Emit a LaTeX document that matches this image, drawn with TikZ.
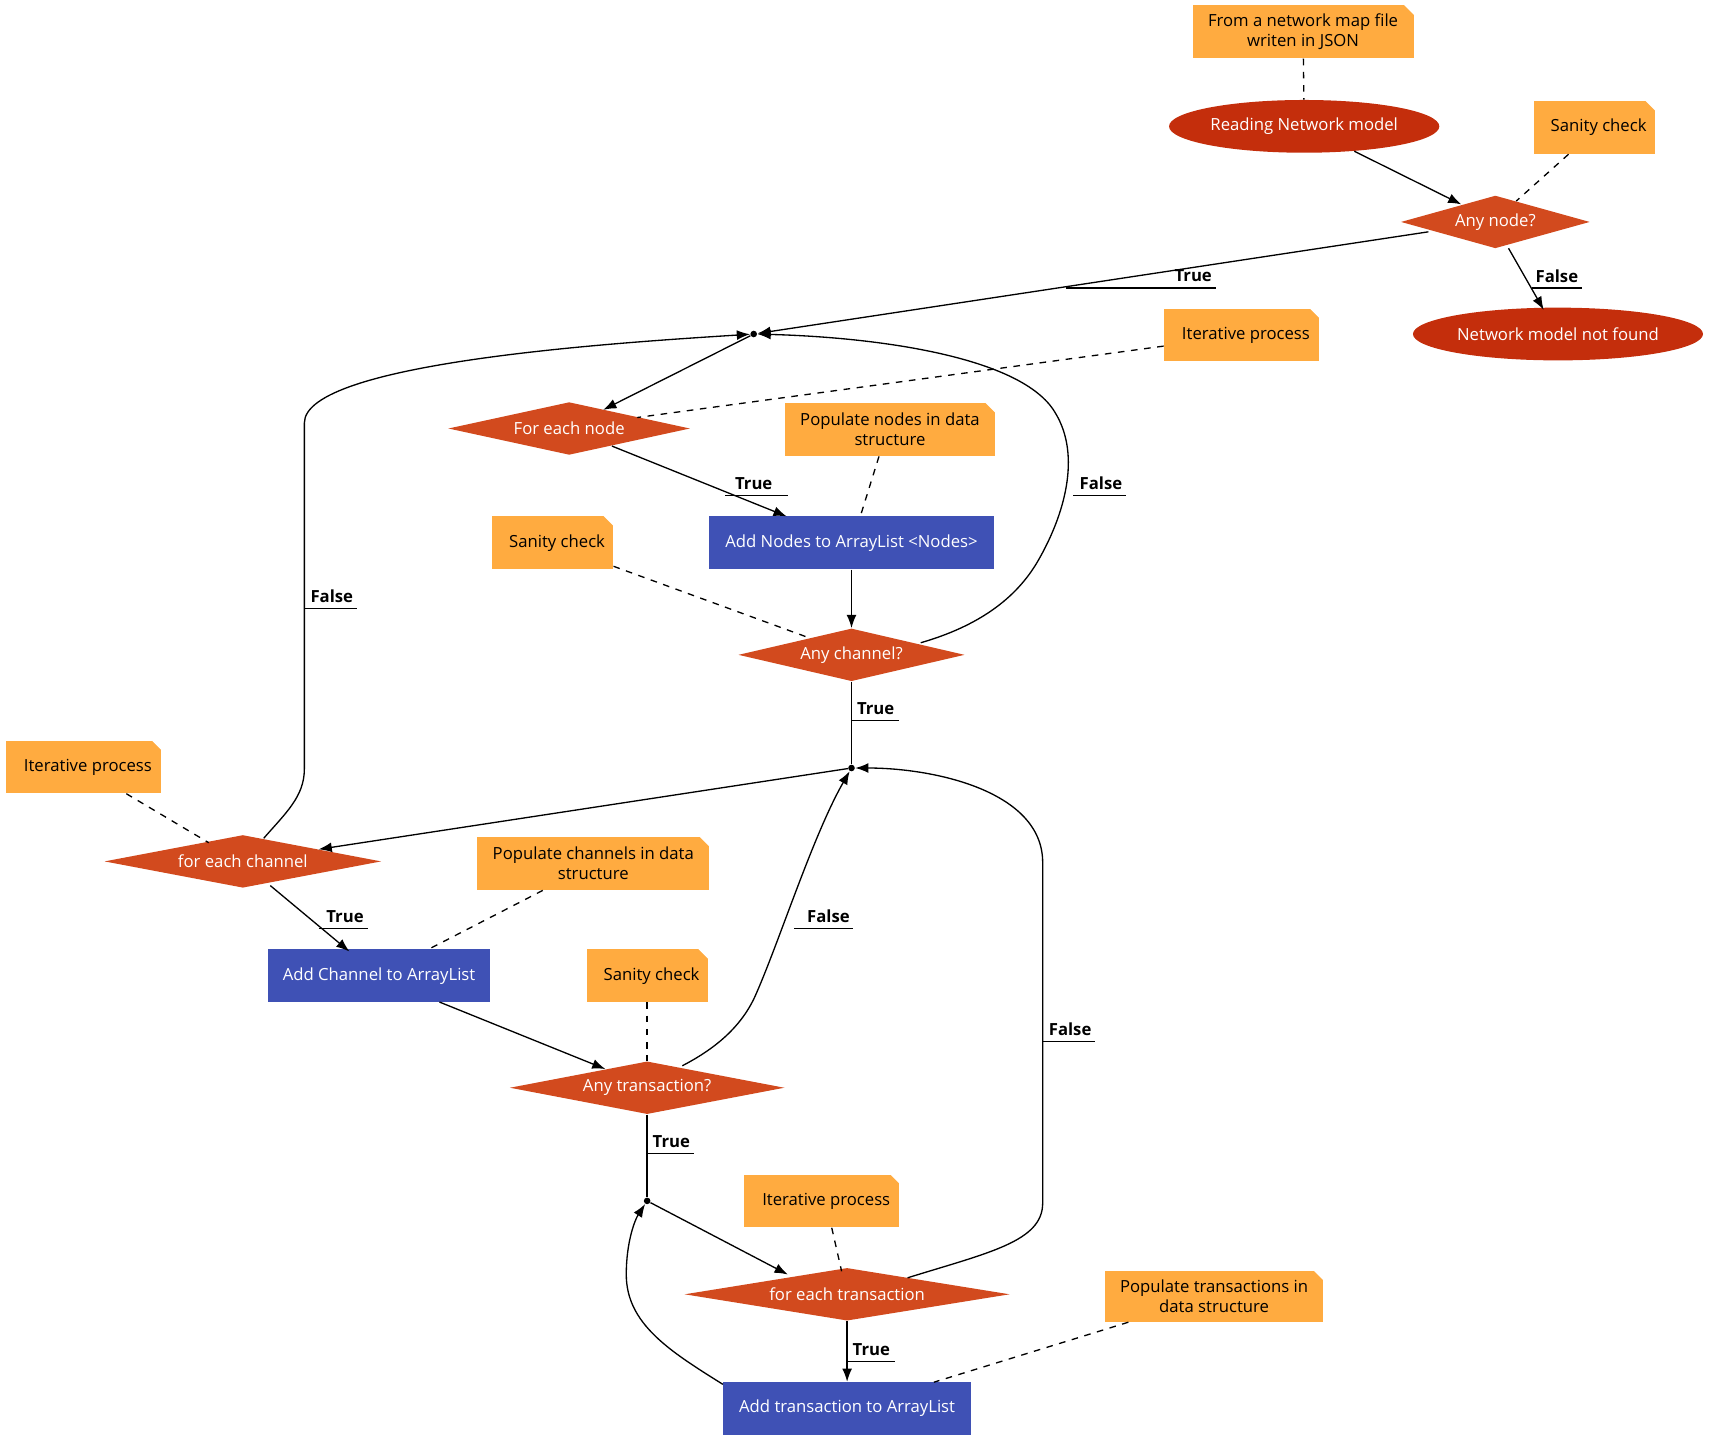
\documentclass[tikz,border=0pt]{standalone}
\usepackage{fontspec}
\setmainfont{Open Sans}
\usetikzlibrary{shapes.geometric,arrows.meta}
\definecolor{noteC}{RGB}{255,171,64}
\definecolor{ellC}{RGB}{196,46,12}
\definecolor{diaC}{RGB}{210,74,30}
\definecolor{boxC}{RGB}{63,81,181}
\begin{document}
\begin{tikzpicture}[x=0.5pt,y=-0.5pt,font=\fontsize{7.6}{9}\selectfont,
  note/.style={fill=noteC,inner sep=0pt,align=center},
  ell/.style={ellipse,fill=ellC,text=white,inner sep=0pt},
  dia/.style={diamond,fill=diaC,text=white,inner sep=0pt,aspect=4},
  blk/.style={fill=boxC,text=white,inner sep=0pt},
  arr/.style={-{Latex[length=6pt,width=4.5pt]},line width=0.6pt},
  ln/.style={line width=0.6pt},
  dsh/.style={dashed,line width=0.6pt},
  lbl/.style={font=\fontsize{7.6}{9}\selectfont\bfseries,inner sep=1pt},
  dot/.style={circle,fill=black,inner sep=0pt,minimum size=3pt}]
\useasboundingbox (0,0) rectangle (1560,1317);
\newcommand{\fold}[1]{\fill[white] (#1.north east) -- ++(-9,0) -- ++(9,9) -- cycle;}
% notes
\node[note,minimum width=100.5pt,minimum height=24pt] (n1) at (1186,29) {From a network map file\\writen in JSON};\fold{n1}
\node[note,minimum width=55pt,minimum height=24pt] (n2) at (1451,116) {\hspace{4pt}Sanity check};\fold{n2}
\node[note,minimum width=70.5pt,minimum height=24pt] (n3) at (1130,305) {\hspace{4pt}Iterative process};\fold{n3}
\node[note,minimum width=95.5pt,minimum height=24pt] (n4) at (810,391) {Populate nodes in data\\structure};\fold{n4}
\node[note,minimum width=55pt,minimum height=24pt] (n5) at (503,494) {\hspace{4pt}Sanity check};\fold{n5}
\node[note,minimum width=70.5pt,minimum height=24pt] (n6) at (76,698) {\hspace{4pt}Iterative process};\fold{n6}
\node[note,minimum width=105.5pt,minimum height=24pt] (n7) at (540,786) {Populate channels in data\\structure};\fold{n7}
\node[note,minimum width=55pt,minimum height=24pt] (n8) at (589,888) {\hspace{4pt}Sanity check};\fold{n8}
\node[note,minimum width=70.5pt,minimum height=24pt] (n9) at (748,1093) {\hspace{4pt}Iterative process};\fold{n9}
\node[note,minimum width=99.5pt,minimum height=23pt] (n10) at (1105,1180) {Populate transactions in\\data structure};\fold{n10}
% main nodes
\node[ell,minimum width=123pt,minimum height=24pt] (rd) at (1187,115) {Reading Network model};
\node[dia,minimum width=86pt,minimum height=24pt] (an) at (1361,202) {Any node?};
\node[ell,minimum width=132pt,minimum height=24pt] (nf) at (1418,304) {Network model not found};
\node[dot] (p1) at (686,304) {};
\node[dia,minimum width=110pt,minimum height=24pt] (fn) at (518,390) {For each node};
\node[blk,minimum width=130pt,minimum height=24pt] (ad) at (775,494) {Add Nodes to ArrayList <Nodes>};
\node[dia,minimum width=103pt,minimum height=24pt] (ac) at (775,596) {Any channel?};
\node[dot] (p2) at (775,699) {};
\node[dia,minimum width=126pt,minimum height=24pt] (fc) at (221,784) {for each channel};
\node[blk,minimum width=101pt,minimum height=24pt] (ach) at (345,888) {Add Channel to ArrayList};
\node[dia,minimum width=125pt,minimum height=24pt] (at) at (589,990) {Any transaction?};
\node[dot] (p3) at (589,1093) {};
\node[dia,minimum width=148pt,minimum height=24pt] (ft) at (771,1178) {for each transaction};
\node[blk,minimum width=113pt,minimum height=24pt] (atr) at (771,1282) {Add transaction to ArrayList};
% dashed
\draw[dsh] (n1) -- (rd);
\draw[dsh] (n2.south west)++(32,0) -- (1380,183);
\draw[dsh] (n3.west)++(0,10) -- (580,380);
\draw[dsh] (n4.south)++(-10,0) -- (783,470);
\draw[dsh] (n5.south east)++(0,-3) -- (735,580);
\draw[dsh] (n6.south)++(39,0) -- (190,767);
\draw[dsh] (n7.south)++(-46,0) -- (390,864);
\draw[dsh] (n8) -- (at);
\draw[dsh] (n9.south)++(9,0) -- (766,1157);
\draw[dsh] (n10.south)++(-78,0) -- (850,1258);
% edges
\draw[arr] (rd) -- (1330,186);
\draw[arr] (1300,211) -- (p1);
\node[lbl] at (1086,251) {True}; \draw[ln] (970,262) -- (1107,262);
\draw[arr] (1373,226) -- (1405,282);
\node[lbl] at (1417,251) {False}; \draw[ln] (1394,262) -- (1440,262);
\draw[arr] (p1) -- (549,373);
\draw[arr] (557,406) -- (716,470);
\node[lbl] at (686,440) {True}; \draw[ln] (660,451) -- (717,451);
\draw[arr] (ad) -- (ac);
\draw[arr] (838,585) .. controls (890,570) and (925,545) .. (945,510)
  .. controls (968,470) and (985,415) .. (960,375)
  .. controls (930,325) and (800,307) .. (p1);
\node[lbl] at (1002,440) {False}; \draw[ln] (977,451) -- (1025,451);
\draw[ln] (ac) -- (p2);
\node[lbl] at (797,645) {True}; \draw[ln] (775,656) -- (818,656);
\draw[arr] (p2) -- (290,773);
\draw[arr] (240,763) .. controls (260,740) and (277,725) .. (277,700) -- (277,385)
  .. controls (277,330) and (560,312) .. (p1);
\node[lbl] at (302,543) {False}; \draw[ln] (277,554) -- (325,554);
\draw[arr] (246,806) -- (318,866);
\node[lbl] at (314,834) {True}; \draw[ln] (290,845) -- (335,845);
\draw[arr] (400,912) -- (551,973);
\draw[arr] (621,970) .. controls (650,955) and (675,935) .. (688,905)
  .. controls (710,855) and (740,760) .. (p2);
\node[lbl] at (754,834) {False}; \draw[ln] (723,845) -- (776,845);
\draw[ln] (at) -- (p3);
\node[lbl] at (611,1039) {True}; \draw[ln] (589,1050) -- (632,1050);
\draw[arr] (p3) -- (717,1160);
\draw[arr] (ft) -- (atr);
\node[lbl] at (793,1228) {True}; \draw[ln] (771,1239) -- (815,1239);
\draw[arr] (826,1163) .. controls (900,1140) and (949,1130) .. (949,1095) -- (949,785)
  .. controls (949,720) and (850,699) .. (p2);
\node[lbl] at (974,937) {False}; \draw[ln] (949,948) -- (997,948);
\draw[arr] (658,1260) .. controls (610,1230) and (570,1205) .. (570,1160)
  .. controls (570,1130) and (578,1110) .. (p3);
\end{tikzpicture}
\end{document}
